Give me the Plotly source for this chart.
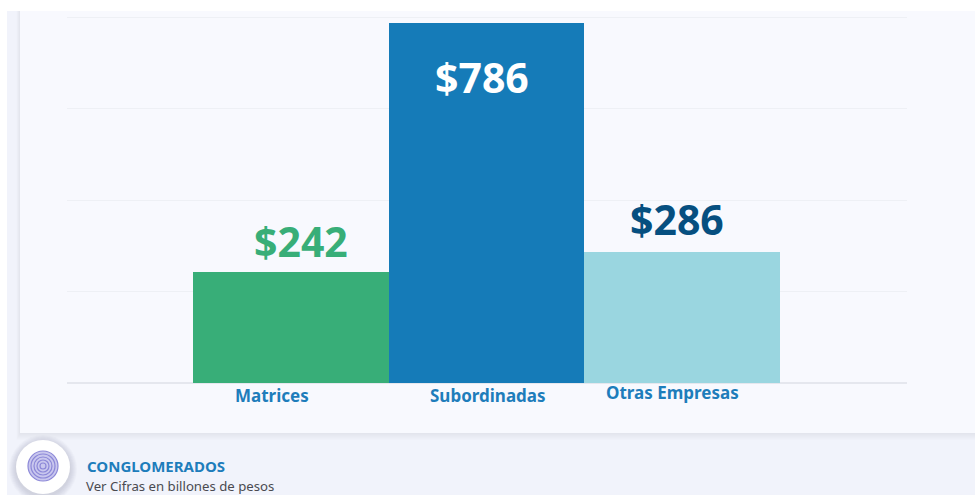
import plotly.graph_objects as go

categories = ["Matrices", "Subordinadas", "Otras Empresas"]
values = [242, 786, 286]
value_labels = ["$242", "$786", "$286"]
bar_colors = ["#38AE78", "#157BB8", "#9AD6E0"]
label_colors = ["#38AE78", "#FFFFFF", "#064F80"]
label_yshift = [31, -54, 33]
label_xshift = [10, -5, -5]
cat_xshift = [-19, 1, -10]
cat_ypx = [395, 395, 392]
y_ticks = [0, 200, 400, 600, 800]

W, H = 975, 495
L, R, T, B = 67, 907, 15, 383
PW, PH = R - L, B - T
FONT = "Noto Sans"

def px(x):
    return (x - L) / PW

def py(y):
    return 1 - (y - T) / PH

def rect(x0, y0, x1, y1, color, **kw):
    return dict(type="rect", xref="paper", yref="paper", x0=px(x0), x1=px(x1),
                y0=py(y1), y1=py(y0), fillcolor=color, line_width=0, layer="below", **kw)

def circle(cx, cy, r, fill="rgba(0,0,0,0)", line=None, width=0):
    return dict(type="circle", xref="paper", yref="paper", x0=px(cx - r), x1=px(cx + r),
                y0=py(cy + r), y1=py(cy - r), fillcolor=fill,
                line=dict(color=line or "rgba(0,0,0,0)", width=width), layer="below")

shapes = [rect(7, 11, W, H, "#F1F3FB")]
for i in range(7, 0, -1):
    shapes.append(rect(20 - i / 2, 11, W, 433 + i, "rgba(120,125,150,0.014)"))
shapes.append(rect(20, 11, W, 433, "#F8F9FE"))
for i in range(7, 0, -1):
    shapes.append(circle(43, 468 + 1, 27 + i, "rgba(100,105,130,0.03)"))
shapes.append(circle(43, 467, 27, "#FFFFFF"))
shapes.append(circle(43, 466, 15, "#C9C7EE"))
for r in [15, 12, 9, 6, 3]:
    shapes.append(circle(43, 466, r, line="#8C88D8", width=1.2))

annotations = []
for i, c in enumerate(categories):
    annotations.append(dict(x=c, y=values[i], xref="x", yref="y", text=f"<b>{value_labels[i]}</b>",
                            showarrow=False, xshift=label_xshift[i], yshift=label_yshift[i],
                            yanchor="middle",
                            font=dict(family=FONT, size=41, color=label_colors[i])))
    annotations.append(dict(x=c, y=py(cat_ypx[i]), xref="x", yref="paper", text=f"<b>{c}</b>",
                            showarrow=False, xshift=cat_xshift[i], yanchor="middle",
                            font=dict(family=FONT, size=17, color="#1E7DBB")))
annotations.append(dict(x=px(85), y=py(466), xref="paper", yref="paper", xanchor="left",
                        yanchor="middle", text="<b>CONGLOMERADOS</b>", showarrow=False,
                        font=dict(family=FONT, size=15, color="#1E7DBB")))
annotations.append(dict(x=px(84), y=py(486), xref="paper", yref="paper", xanchor="left",
                        yanchor="middle", text="Ver Cifras en billones de pesos", showarrow=False,
                        font=dict(family=FONT, size=13.2, color="#4A4A50")))

fig = go.Figure(go.Bar(x=categories, y=values, marker=dict(color=bar_colors, line_width=0),
                       hoverinfo="skip"))
fig.update_layout(
    width=W, height=H, autosize=False,
    margin=dict(l=L, r=W - R, t=T, b=H - B),
    paper_bgcolor="#FFFFFF", plot_bgcolor="rgba(0,0,0,0)",
    bargap=0, showlegend=False, shapes=shapes, annotations=annotations,
    xaxis=dict(type="category", range=[-1.146, 3.151], showticklabels=False, showgrid=False,
               ticks="", zeroline=False, showline=False, fixedrange=True),
    yaxis=dict(range=[0, 804.4], tickvals=y_ticks, showticklabels=False, ticks="",
               gridcolor="#EEF0F5", gridwidth=1, zeroline=True, zerolinecolor="#E5E7EE",
               zerolinewidth=2, showline=False, fixedrange=True),
)
fig.write_html("out.html", config=dict(displayModeBar=False),
               post_script="document.body.style.margin='0';document.body.style.overflow='hidden';")
